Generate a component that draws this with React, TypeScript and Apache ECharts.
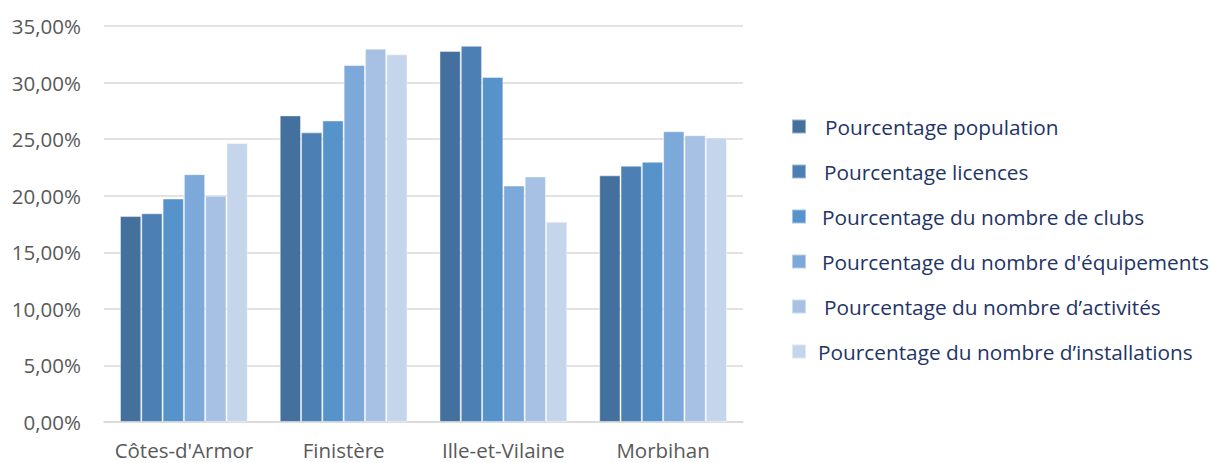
import React, { useEffect, useRef } from "react";
import * as echarts from "echarts";

const categories = ["Côtes-d'Armor", "Finistère", "Ille-et-Vilaine", "Morbihan"];
const seriesNames = [
  "Pourcentage population",
  "Pourcentage licences",
  "Pourcentage du nombre de clubs",
  "Pourcentage du nombre d'équipements",
  "Pourcentage du nombre d’activités",
  "Pourcentage du nombre d’installations",
];
const population = [18.2, 27.1, 32.8, 21.8];
const licences = [18.45, 25.6, 33.25, 22.65];
const clubs = [19.75, 26.65, 30.5, 23.0];
const equipements = [21.9, 31.55, 20.9, 25.7];
const activites = [20.0, 33.0, 21.7, 25.35];
const installations = [24.65, 32.5, 17.7, 25.15];
const seriesValues = [population, licences, clubs, equipements, activites, installations];
const colors = ["#43709D", "#4C80B5", "#5793CB", "#7CA8DA", "#A6C1E4", "#C5D5EB"];
const legendLeft = [786, 786, 786, 786, 786, 786];
const legendTextPad = [14, 13, 11, 11, 13, 7];
const legendCenterY = [127, 172, 217, 262, 307, 352];

export default function App() {
  const ref = useRef<HTMLDivElement>(null);
  useEffect(() => {
    document.body.style.margin = "0";
    const chart = echarts.init(ref.current!, null, { renderer: "svg" });
    chart.setOption({
      animation: false,
      textStyle: { fontFamily: "Open Sans" },
      grid: { left: 104, right: 469, top: 26, bottom: 41 },
      legend: seriesNames.map((n, i) => ({
        data: [n],
        left: legendLeft[i],
        top: legendCenterY[i] - 16,
        icon: "rect",
        itemWidth: 14,
        itemHeight: 14,
        selectedMode: false,
        textStyle: {
          color: "#1F3467",
          fontSize: 20.8,
          fontFamily: "Open Sans",
          padding: [0, 0, 0, legendTextPad[i]],
        },
      })),
      xAxis: {
        type: "category",
        data: categories,
        axisLine: { lineStyle: { color: "#D9D9D9", width: 1.5 } },
        axisTick: { show: false },
        axisLabel: { color: "#595959", fontSize: 20.5, margin: 17, interval: 0 },
      },
      yAxis: {
        type: "value",
        min: 0,
        max: 35,
        interval: 5,
        axisLine: { show: false },
        axisTick: { show: false },
        splitLine: { lineStyle: { color: "#D9D9D9", width: 1.5 } },
        axisLabel: {
          color: "#595959",
          fontSize: 20.5,
          margin: 23,
          formatter: (v: number) => v.toFixed(2).replace(".", ",") + "%",
        },
      },
      series: seriesNames.map((n, i) => ({
        name: n,
        type: "bar",
        data: seriesValues[i],
        barGap: "0%",
        barCategoryGap: "20%",
        itemStyle: {
          color: colors[i],
          borderColor: "rgba(255,255,255,0.45)",
          borderWidth: 1,
        },
      })),
    });
    return () => chart.dispose();
  }, []);
  return <div ref={ref} style={{ width: 1212, height: 463 }} />;
}
